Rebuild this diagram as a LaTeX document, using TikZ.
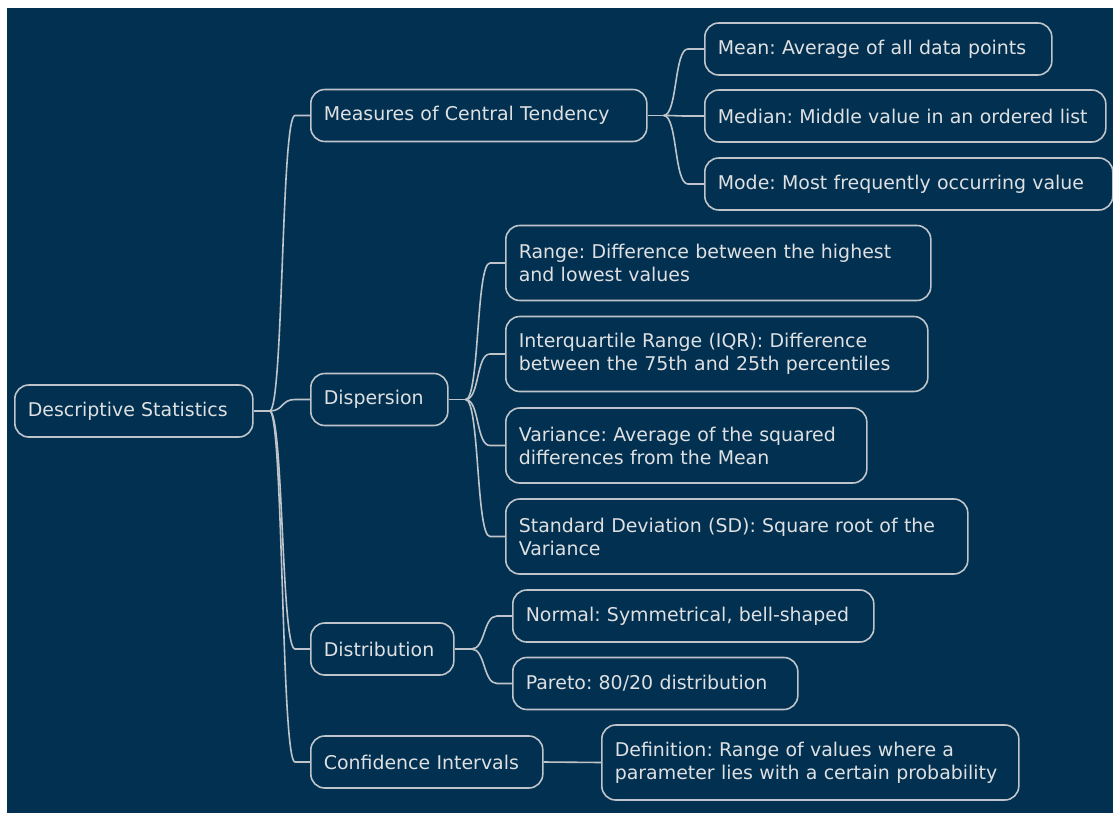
\documentclass[tikz,border=0pt]{standalone}
\usepackage{fontspec}
\setmainfont{DejaVu Sans}
\definecolor{navy}{RGB}{2,48,80}
\definecolor{edge}{RGB}{190,196,202}
\definecolor{label}{RGB}{222,224,226}
\begin{document}
\begin{tikzpicture}[x=0.75pt,y=-0.75pt,
  font=\fontsize{14.2pt}{17.25pt}\selectfont\frenchspacing,
  topic/.style={draw=edge,line width=1.2pt,rounded corners=10.5pt,text=label,
    anchor=west,align=left,inner xsep=9.75pt,minimum height=39pt},
  twoline/.style={topic,minimum height=56.25pt},
  link/.style={draw=edge,line width=1.2pt}]

%background
    \useasboundingbox (0,0) rectangle (1113,813);
    \fill[white] (0,0) rectangle (1113,813);
    \fill[navy] (7,8) rectangle (1113,813);

%draw main branches
    \node[topic,text width=159pt] (root) at (14,411) {Descriptive Statistics};
    \node[topic,text width=232.5pt] (mct) at (310,115.5) {Measures of Central Tendency};
    \node[topic,text width=83.25pt] (disp) at (310,399.5) {Dispersion};
    \node[topic,text width=87.75pt] (dist) at (310,649) {Distribution};
    \node[topic,text width=154.5pt] (ci) at (310,762) {Confidence Intervals};

%draw leaves
    \node[topic,text width=240.75pt] (mean) at (704,49) {Mean: Average of all data points};
    \node[topic,text width=281.25pt] (median) at (704,116) {Median: Middle value in an ordered list};
    \node[topic,text width=286.5pt] (mode) at (704,184) {Mode: Most frequently occurring value};
    \node[twoline,text width=299.25pt] (range) at (505,263) {Range: Difference between the highest\\and lowest values};
    \node[twoline,text width=297pt] (iqr) at (505,354) {Interquartile Range (IQR): Difference\\between the 75th and 25th percentiles};
    \node[twoline,text width=251.25pt] (var) at (505,445.5) {Variance: Average of the squared\\differences from the Mean};
    \node[twoline,text width=327pt] (sd) at (505,536.5) {Standard Deviation (SD): Square root of the\\Variance};
    \node[topic,text width=251.25pt] (normal) at (512,616) {Normal: Symmetrical, bell-shaped};
    \node[topic,text width=194.25pt] (pareto) at (512,683.5) {Pareto: 80/20 distribution};
    \node[twoline,text width=293.25pt] (def) at (601,762.5) {Definition: Range of values where a\\parameter lies with a certain probability};

%draw links
    \draw[link] (root.east) -- ++(16,0) coordinate (rootfork);
    \foreach \c in {mct,disp,dist,ci}
    \draw[link] (\c.west) -- ++(-15,0) .. controls +(-14,0) and +(14,0) .. (rootfork);
    \draw[link] (mct.east) -- ++(16,0) coordinate (mctfork);
    \foreach \c in {mean,median,mode}
    \draw[link] (\c.west) -- ++(-16,0) .. controls +(-14,0) and +(14,0) .. (mctfork);
    \draw[link] (disp.east) -- ++(17,0) coordinate (dispfork);
    \foreach \c in {range,iqr,var,sd}
    \draw[link] (\c.west) -- ++(-15,0) .. controls +(-14,0) and +(14,0) .. (dispfork);
    \draw[link] (dist.east) -- ++(17,0) coordinate (distfork);
    \foreach \c in {normal,pareto}
    \draw[link] (\c.west) -- ++(-15,0) .. controls +(-14,0) and +(14,0) .. (distfork);
    \draw[link] (ci.east) -- (def.west);

\end{tikzpicture}
\end{document}
